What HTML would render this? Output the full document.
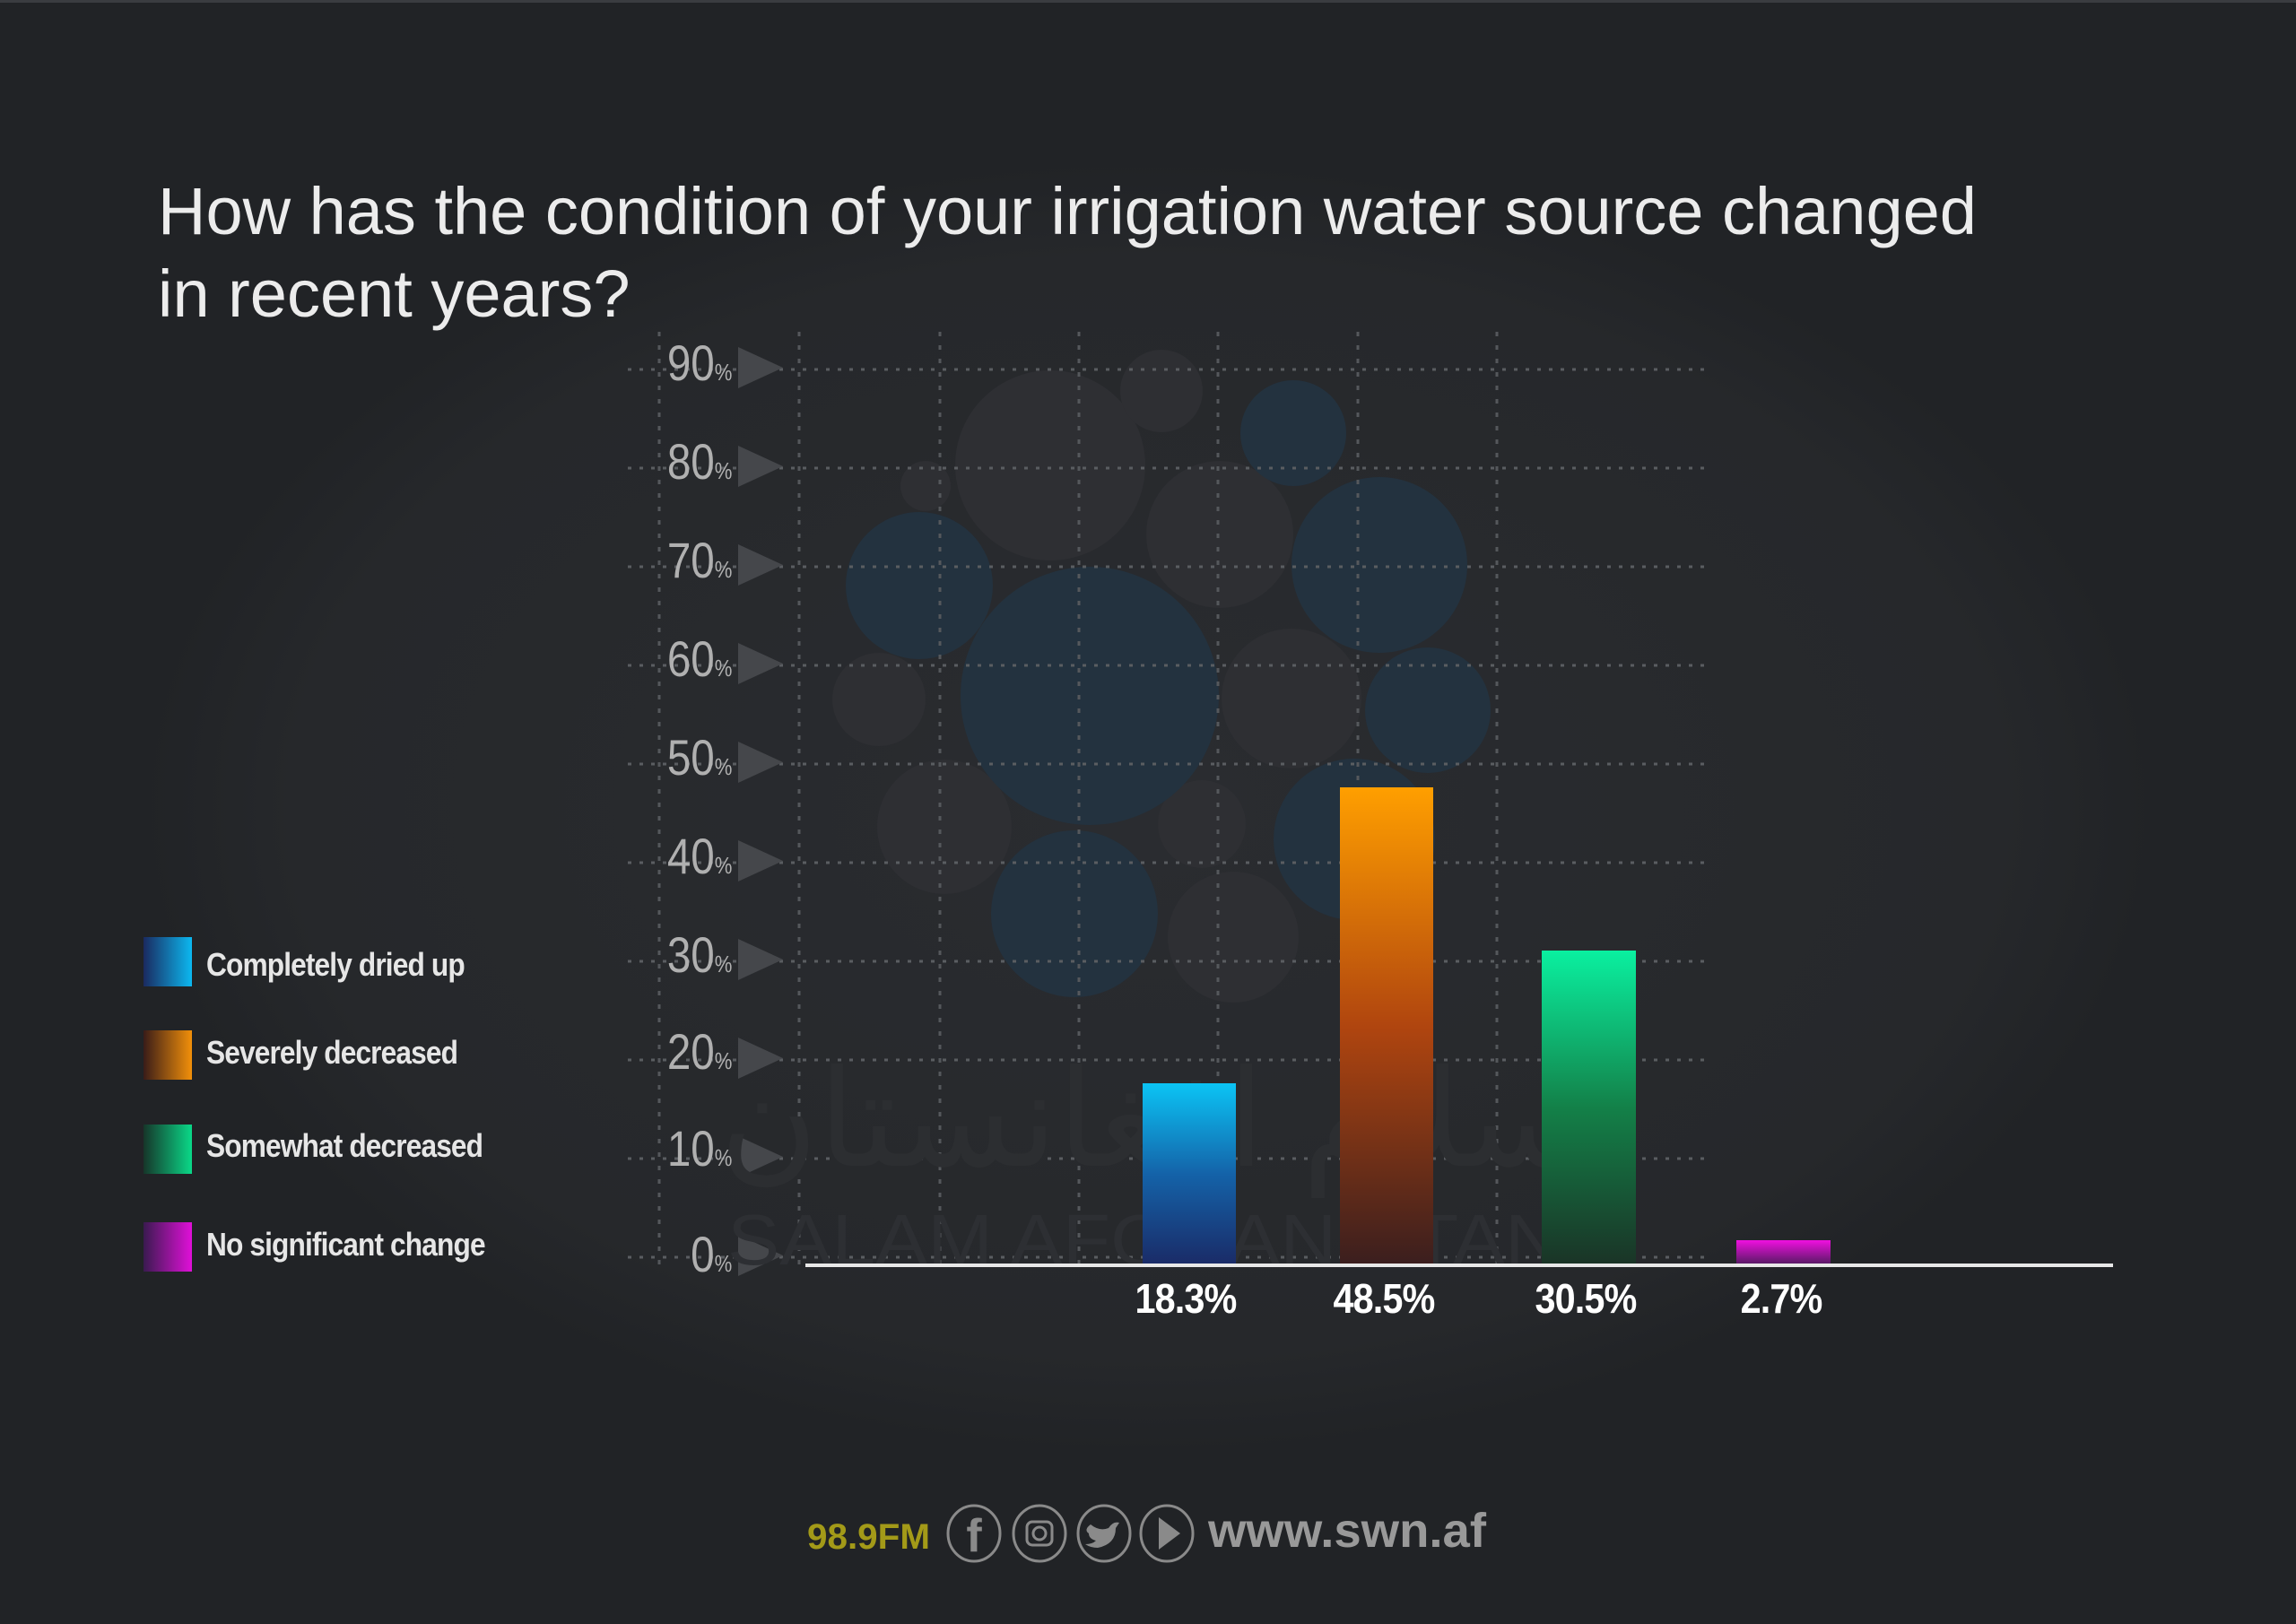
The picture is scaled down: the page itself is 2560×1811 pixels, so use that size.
<!DOCTYPE html>
<html><head><meta charset="utf-8"><style>
html,body{margin:0;padding:0;background:#212326;}
body{width:2560px;height:1811px;overflow:hidden;position:relative;font-family:"Liberation Sans",sans-serif;}
.title{position:absolute;left:176px;top:190px;color:#ececec;font-size:74px;line-height:92px;font-weight:300;letter-spacing:0px;}
.lt{position:absolute;left:230px;color:#e6e6e6;font-size:36px;font-weight:bold;transform:scaleX(0.88);transform-origin:left center;letter-spacing:-1px;}
.tick{position:absolute;right:1744px;color:#b0b0b0;font-size:56px;font-weight:300;transform:scaleX(0.85);transform-origin:right center;}
.tick small{font-size:26px;}
.val{position:absolute;color:#fff;font-size:46px;font-weight:bold;width:200px;text-align:center;transform:scaleX(0.9);letter-spacing:-1px;}
</style></head><body>
<svg width="2560" height="1811" style="position:absolute;left:0;top:0">
<defs>
<radialGradient id="glob" cx="0.5" cy="0.5" r="0.5"><stop offset="0" stop-color="#2a2c30"/><stop offset="0.85" stop-color="#26282b"/><stop offset="1" stop-color="#212326"/></radialGradient>
<linearGradient id="gb" x1="0" y1="0" x2="0" y2="1"><stop offset="0" stop-color="#0bc4f5"/><stop offset="0.5" stop-color="#1462a8"/><stop offset="1" stop-color="#1a2a66"/></linearGradient>
<linearGradient id="go" x1="0" y1="0" x2="0" y2="1"><stop offset="0" stop-color="#ff9f00"/><stop offset="0.5" stop-color="#b0450f"/><stop offset="1" stop-color="#3a1e1e"/></linearGradient>
<linearGradient id="gg" x1="0" y1="0" x2="0" y2="1"><stop offset="0" stop-color="#0af0a0"/><stop offset="0.5" stop-color="#138048"/><stop offset="1" stop-color="#1a3326"/></linearGradient>
<linearGradient id="gp" x1="0" y1="0" x2="0" y2="1"><stop offset="0" stop-color="#f010e0"/><stop offset="1" stop-color="#4a1a5a"/></linearGradient>
<linearGradient id="lb" x1="0" x2="1"><stop offset="0" stop-color="#1a2a60"/><stop offset="1" stop-color="#0cb8f0"/></linearGradient>
<linearGradient id="lo" x1="0" x2="1"><stop offset="0" stop-color="#3a1c18"/><stop offset="1" stop-color="#f2900a"/></linearGradient>
<linearGradient id="lg" x1="0" x2="1"><stop offset="0" stop-color="#16362a"/><stop offset="1" stop-color="#0ad888"/></linearGradient>
<linearGradient id="lp" x1="0" x2="1"><stop offset="0" stop-color="#3a1a50"/><stop offset="1" stop-color="#e010d8"/></linearGradient>
</defs>
<rect x="0" y="0" width="2560" height="1811" fill="#212326"/>
<rect x="0" y="0" width="2560" height="3" fill="#3a3c40"/>
<ellipse cx="1280" cy="900" rx="1120" ry="720" fill="url(#glob)"/>
<g fill="#2e2f33">
<circle cx="1171" cy="519" r="106"/><circle cx="1295" cy="436" r="46"/><circle cx="1032" cy="542" r="28"/><circle cx="1360" cy="596" r="82"/><circle cx="980" cy="780" r="52"/><circle cx="1440" cy="779" r="78"/><circle cx="1053" cy="922" r="75"/><circle cx="1340" cy="919" r="49"/><circle cx="1375" cy="1045" r="73"/>
</g>
<g fill="#23323f">
<circle cx="1442" cy="483" r="59"/><circle cx="1025" cy="653" r="82"/><circle cx="1215" cy="776" r="144"/><circle cx="1538" cy="630" r="98"/><circle cx="1592" cy="792" r="70"/><circle cx="1198" cy="1019" r="93"/><circle cx="1510" cy="936" r="90"/>
</g>
<g stroke="#55585c" stroke-width="3" stroke-dasharray="5 10" fill="none">
<line x1="735" y1="370" x2="735" y2="1410"/><line x1="891" y1="370" x2="891" y2="1410"/><line x1="1048" y1="370" x2="1048" y2="1410"/><line x1="1203" y1="370" x2="1203" y2="1410"/><line x1="1358" y1="370" x2="1358" y2="1410"/><line x1="1514" y1="370" x2="1514" y2="1410"/><line x1="1669" y1="370" x2="1669" y2="1410"/>
</g>
<g stroke="#5a5d61" stroke-width="3" stroke-dasharray="4 9">
<line x1="700" y1="412" x2="1900" y2="412"/><line x1="700" y1="522" x2="1900" y2="522"/><line x1="700" y1="632" x2="1900" y2="632"/><line x1="700" y1="742" x2="1900" y2="742"/><line x1="700" y1="852" x2="1900" y2="852"/><line x1="700" y1="962" x2="1900" y2="962"/><line x1="700" y1="1072" x2="1900" y2="1072"/><line x1="700" y1="1182" x2="1900" y2="1182"/><line x1="700" y1="1292" x2="1900" y2="1292"/><line x1="700" y1="1402" x2="1900" y2="1402"/>
</g>
<g fill="#45474b">
<polygon points="823,387 873,410 823,433"/><polygon points="823,497 873,520 823,543"/><polygon points="823,607 873,630 823,653"/><polygon points="823,717 873,740 823,763"/><polygon points="823,827 873,850 823,873"/><polygon points="823,937 873,960 823,983"/><polygon points="823,1047 873,1070 823,1093"/><polygon points="823,1157 873,1180 823,1203"/><polygon points="823,1267 873,1290 823,1313"/><polygon points="823,1377 873,1400 823,1423"/>
</g>
<text x="1760" y="1300" font-family="Liberation Sans" font-size="150" fill="#2c2e31" text-anchor="end">سلام افغانستان</text>
<text x="811" y="1410" font-family="Liberation Sans" font-size="80" fill="#2d2f33" textLength="930" lengthAdjust="spacingAndGlyphs">SALAM AFGHANISTAN</text>
<rect x="1274" y="1208" width="104" height="204" fill="url(#gb)"/>
<rect x="1494" y="878" width="104" height="534" fill="url(#go)"/>
<rect x="1719" y="1060" width="105" height="352" fill="url(#gg)"/>
<rect x="1936" y="1383" width="105" height="29" fill="url(#gp)"/>
<rect x="898" y="1409" width="1458" height="4" fill="#e8e8e8"/>
<rect x="160" y="1045" width="54" height="55" fill="url(#lb)"/>
<rect x="160" y="1149" width="54" height="55" fill="url(#lo)"/>
<rect x="160" y="1254" width="54" height="55" fill="url(#lg)"/>
<rect x="160" y="1363" width="54" height="55" fill="url(#lp)"/>
<g stroke="#8a8a8a" stroke-width="3" fill="none">
<ellipse cx="1086" cy="1710" rx="29" ry="31"/><ellipse cx="1159" cy="1710" rx="29" ry="31"/><ellipse cx="1231" cy="1710" rx="29" ry="31"/><ellipse cx="1301" cy="1710" rx="29" ry="31"/>
<rect x="1145" y="1697" width="28" height="26" rx="6"/><circle cx="1159" cy="1710" r="7"/>
</g>
<text x="1086" y="1730" font-family="Liberation Sans" font-weight="bold" font-size="52" fill="#8a8a8a" text-anchor="middle">f</text>
<path d="M1216 1700 q10 8 20 4 q5 -8 12 -6 l-4 6 q0 18 -20 22 q-8 0 -14 -4 q8 0 12 -4 q-8 -2 -8 -8 q-6 -4 2 -10z" fill="#8a8a8a"/>
<polygon points="1292,1692 1316,1710 1292,1728" fill="#8a8a8a"/>
<text x="900" y="1727" font-family="Liberation Sans" font-weight="bold" font-size="40" fill="#a39a18" textLength="137" lengthAdjust="spacingAndGlyphs">98.9FM</text>
<text x="1347" y="1725" font-family="Liberation Sans" font-weight="bold" font-size="54" fill="#999" textLength="310" lengthAdjust="spacingAndGlyphs">www.swn.af</text>
</svg>
<div class="title">How has the condition of your irrigation water source changed<br>in recent years?</div>
<div class="lt" style="top:1055px">Completely dried up</div>
<div class="lt" style="top:1153px">Severely decreased</div>
<div class="lt" style="top:1257px">Somewhat decreased</div>
<div class="lt" style="top:1367px">No significant change</div>
<div class="tick" style="top:372px">90<small>%</small></div>
<div class="tick" style="top:482px">80<small>%</small></div>
<div class="tick" style="top:592px">70<small>%</small></div>
<div class="tick" style="top:702px">60<small>%</small></div>
<div class="tick" style="top:812px">50<small>%</small></div>
<div class="tick" style="top:922px">40<small>%</small></div>
<div class="tick" style="top:1032px">30<small>%</small></div>
<div class="tick" style="top:1140px">20<small>%</small></div>
<div class="tick" style="top:1248px">10<small>%</small></div>
<div class="tick" style="top:1366px">0<small>%</small></div>
<div class="val" style="left:1222px;top:1421px">18.3%</div>
<div class="val" style="left:1443px;top:1421px">48.5%</div>
<div class="val" style="left:1668px;top:1421px">30.5%</div>
<div class="val" style="left:1886px;top:1421px">2.7%</div>
</body></html>
